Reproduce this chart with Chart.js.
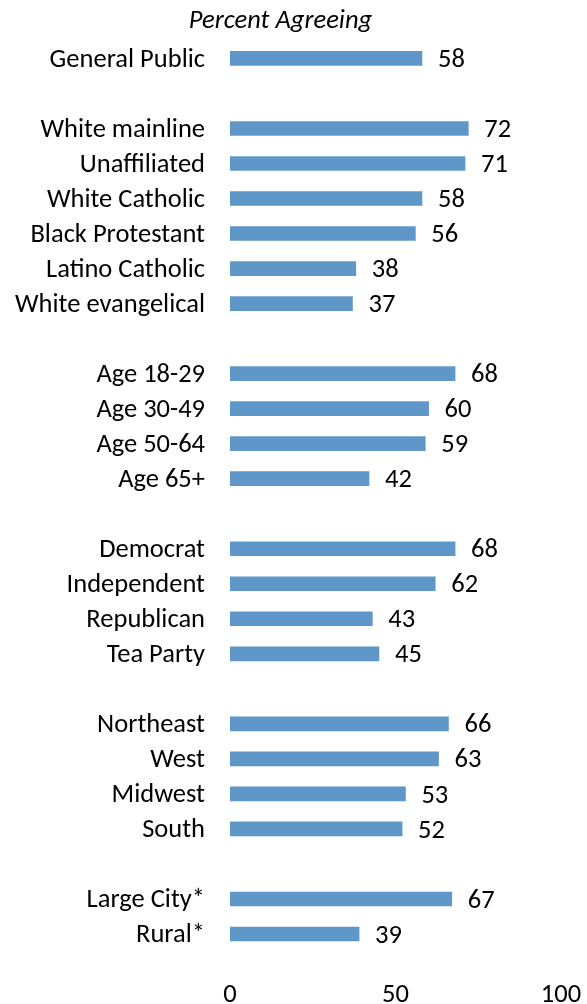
<!DOCTYPE html>
<html>
<head>
<meta charset="utf-8">
<script src="https://cdn.jsdelivr.net/npm/chart.js@4"></script>
<style>
  html, body { margin: 0; padding: 0; background: #fff; }
  #wrap { width: 587px; height: 1004px; }
</style>
</head>
<body>
<div id="wrap"><canvas id="chart"></canvas></div>
<script>
// Rows top to bottom; empty labels are the spacer rows between groups.
const categories = [
  "General Public", "",
  "White mainline", "Unaffiliated", "White Catholic", "Black Protestant",
  "Latino Catholic", "White evangelical", "",
  "Age 18-29", "Age 30-49", "Age 50-64", "Age 65+", "",
  "Democrat", "Independent", "Republican", "Tea Party", "",
  "Northeast", "West", "Midwest", "South", "",
  "Large City*", "Rural*",
];
const agreeing = [
  58, null,
  72, 71, 58, 56, 38, 37, null,
  68, 60, 59, 42, null,
  68, 62, 43, 45, null,
  66, 63, 53, 52, null,
  67, 39,
];
const xTicks = [0, 50, 100];

const FONT = "Carlito, Lato, 'Open Sans', sans-serif";
const FSIZE = 26.5;
const BAR = "#5f97c9";

// draws the value just right of each bar end
const valueLabels = {
  id: "valueLabels",
  afterDatasetsDraw(chart) {
    const { ctx } = chart;
    const meta = chart.getDatasetMeta(0);
    ctx.save();
    ctx.font = `${FSIZE}px ${FONT}`;
    ctx.fillStyle = "#000";
    ctx.textAlign = "left";
    ctx.textBaseline = "middle";
    meta.data.forEach((bar, i) => {
      const v = agreeing[i];
      if (v === null || v === undefined) return;
      ctx.fillText(String(v), bar.x + 16, bar.y + 2);
    });
    ctx.restore();
  },
};

new Chart(document.getElementById("chart"), {
  type: "bar",
  data: {
    labels: categories,
    datasets: [{
      data: agreeing,
      backgroundColor: BAR,
      borderWidth: 0,
      barThickness: 14,
    }],
  },
  options: {
    indexAxis: "y",
    responsive: true,
    maintainAspectRatio: false,
    animation: false,
    layout: { padding: { left: 0, right: 26, top: 0, bottom: 0 } },
    plugins: {
      legend: { display: false },
      tooltip: { enabled: false },
      title: {
        display: true,
        text: "Percent Agreeing",
        color: "#000",
        font: { family: FONT, size: FSIZE, style: "italic", weight: "normal", lineHeight: 1.2 },
        padding: { top: 4, bottom: 3.7 },
      },
    },
    scales: {
      x: {
        min: 0,
        max: 100,
        afterBuildTicks: (s) => { s.ticks = xTicks.map((v) => ({ value: v })); },
        afterFit: (s) => { s.height = 52.5; s.paddingLeft = 0; s.paddingRight = 0; },
        grid: { display: false, drawTicks: false },
        border: { display: false },
        ticks: {
          color: "#000",
          padding: 28,
          maxRotation: 0,
          font: { family: FONT, size: FSIZE, lineHeight: 1.2 },
        },
      },
      y: {
        afterFit: (s) => { s.width = 230; },
        grid: { display: false, drawTicks: false },
        border: { display: false },
        ticks: {
          color: "#000",
          padding: 25,
          labelOffset: 1.5,
          autoSkip: false,
          font: { family: FONT, size: FSIZE },
        },
      },
    },
  },
  plugins: [valueLabels],
});
</script>
</body>
</html>
